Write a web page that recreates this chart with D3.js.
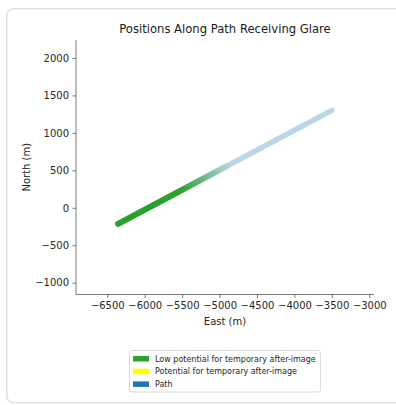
<!DOCTYPE html>
<html><head><meta charset="utf-8">
<script src="https://cdn.jsdelivr.net/npm/d3@7"></script>
<style>
html,body{margin:0;padding:0;background:#fff;}
svg{display:block;font-family:"DejaVu Sans",sans-serif;}
</style></head>
<body>
<svg id="c" width="396" height="405"></svg>
<script>
const title = "Positions Along Path Receiving Glare";
const xLabel = "East (m)";
const yLabel = "North (m)";
const xTicks = [-6500,-6000,-5500,-5000,-4500,-4000,-3500,-3000];
const yTicks = [-1000,-500,0,500,1000,1500,2000];
const xDomain = [-6918,-2937];
const yDomain = [-1157,2240];
// path endpoints
const pathEast = [-6355,-3500];
const pathNorth = [-213,1300];
// glare (low potential) extent and density (opacity) along path
const glareEast = [-6355,-5550,-5250,-4850];
const glareOpacity = [1,1,0.6,0];
const legendLabels = ["Low potential for temporary after-image","Potential for temporary after-image","Path"];
const legendColors = ["#2ca02c","#ffff00","#1f77b4"];

const svg = d3.select("#c");
// card
svg.append("rect").attr("x",6.75).attr("y",8.75).attr("width",420).attr("height",394)
  .attr("rx",7).attr("fill","#fff").attr("stroke","#e0e0e0").attr("stroke-width",1.5);

const L=76, R=374, T=40, B=294.5;
const x = d3.scaleLinear().domain(xDomain).range([L,R]);
const y = d3.scaleLinear().domain(yDomain).range([B,T]);

// path line
const slope = (pathNorth[1]-pathNorth[0])/(pathEast[1]-pathEast[0]);
const northAt = e => pathNorth[0] + (e-pathEast[0])*slope;
svg.append("line")
  .attr("x1",x(pathEast[0])).attr("y1",y(pathNorth[0]))
  .attr("x2",x(pathEast[1])).attr("y2",y(pathNorth[1]))
  .attr("stroke","#1f77b4").attr("stroke-opacity",0.3).attr("stroke-width",5.5).attr("stroke-linecap","round");

// glare gradient
const defs = svg.append("defs");
const g0 = glareEast[0], g1 = glareEast[glareEast.length-1];
const grad = defs.append("linearGradient").attr("id","gg").attr("gradientUnits","userSpaceOnUse")
  .attr("x1",x(g0)).attr("y1",y(northAt(g0))).attr("x2",x(g1)).attr("y2",y(northAt(g1)));
glareEast.forEach((e,i)=>{
  grad.append("stop").attr("offset",(e-g0)/(g1-g0)).attr("stop-color",legendColors[0]).attr("stop-opacity",glareOpacity[i]);
});
svg.append("line")
  .attr("x1",x(g0)).attr("y1",y(northAt(g0)))
  .attr("x2",x(g1)).attr("y2",y(northAt(g1)))
  .attr("stroke","url(#gg)").attr("stroke-width",6).attr("stroke-linecap","round");

// axes
const fmt = d=>d3.format("d")(d).replace("-","\u2212");
const xa = svg.append("g").attr("transform",`translate(0,${B})`)
  .call(d3.axisBottom(x).tickValues(xTicks).tickSize(3.5).tickPadding(3.5).tickFormat(fmt));
const ya = svg.append("g").attr("transform",`translate(${L},0)`)
  .call(d3.axisLeft(y).tickValues(yTicks).tickSize(3.5).tickPadding(3.5).tickFormat(fmt));
[xa,ya].forEach(a=>{
  a.selectAll("text").attr("font-size",10).attr("fill","#262626").attr("font-family","DejaVu Sans");
  a.selectAll("line").attr("stroke","#555").attr("stroke-width",0.8);
  a.select(".domain").attr("stroke","#555").attr("stroke-width",0.8);
});
xa.select(".domain").attr("d",`M${L},0H${R}`);
ya.select(".domain").attr("d",`M0,${B}V${T}`);

svg.append("text").attr("x",(L+R)/2).attr("y",33).attr("text-anchor","middle")
  .attr("font-size",11.6).attr("fill","#1a1a1a").text(title);
svg.append("text").attr("x",(L+R)/2).attr("y",325).attr("text-anchor","middle")
  .attr("font-size",10).attr("fill","#262626").text(xLabel);
svg.append("text").attr("transform",`translate(30,${(T+B)/2}) rotate(-90)`).attr("text-anchor","middle")
  .attr("font-size",10).attr("fill","#262626").text(yLabel);

// legend
const lg = svg.append("g");
lg.append("rect").attr("x",129.5).attr("y",350.5).attr("width",191).attr("height",41.5).attr("rx",2)
  .attr("fill","#fff").attr("stroke","#d0d0d0").attr("stroke-width",0.8);
legendLabels.forEach((t,i)=>{
  const yy = 358.5 + i*12.7;
  lg.append("rect").attr("x",133).attr("y",yy-2.5).attr("width",16).attr("height",5.5).attr("fill",legendColors[i]);
  lg.append("text").attr("x",155).attr("y",yy+3).attr("font-size",8).attr("fill","#262626").text(t);
});
</script>
</body></html>
